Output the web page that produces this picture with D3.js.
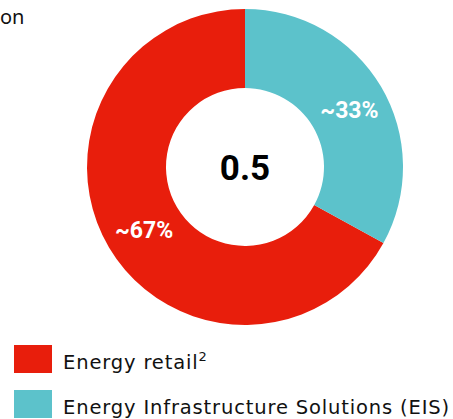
<!DOCTYPE html>
<html>
<head>
<meta charset="utf-8">
<script src="https://cdn.jsdelivr.net/npm/d3@7"></script>
<style>
  body { margin: 0; background: #fff; }
  svg { display: block; font-family: "Noto Sans", sans-serif; }
</style>
</head>
<body>
<div id="chart"></div>
<script>
// Segment data
const segments = ['Energy retail', 'Energy Infrastructure Solutions (EIS)'];
const shares = [67, 33];
const shareLabels = ['~67%', '~33%'];
const colors = ['#e81e0c', '#5cc2cb'];
const centerValue = '0.5';

const width = 453,
    height = 419,
    cx = 245,
    cy = 167,
    outerR = 158,
    innerR = 79;

const svg = d3.select('#chart')
    .append('svg')
    .attr('width', width)
    .attr('height', height);

// Title fragment at top left
svg.append('text')
    .attr('x', 0)
    .attr('y', 24)
    .attr('font-size', 20)
    .attr('fill', '#111')
    .text('on');

const g = svg.append('g')
    .attr('transform', 'translate(' + cx + ',' + cy + ')');

// EIS starts at 12 o'clock going clockwise, retail takes the rest
const pie = d3.pie()
    .sort(null)
    .startAngle(2 * Math.PI)
    .endAngle(0)
    .value(d => d);

const arcs = pie(shares);

const arc = d3.arc()
    .innerRadius(innerR)
    .outerRadius(outerR);

g.selectAll('path')
    .data(arcs)
    .join('path')
    .attr('d', arc)
    .attr('fill', (d, i) => colors[i]);

// Percentage labels, placed along the ring
g.selectAll('.pct')
    .data(arcs)
    .join('text')
    .attr('class', 'pct')
    .attr('transform', (d, i) => {
        const a = i === 0 ? -2.13 : 1.07;
        return 'translate(' + (Math.sin(a) * 119) + ',' + (-Math.cos(a) * 119) + ')';
    })
    .attr('text-anchor', 'middle')
    .attr('dy', '0.36em')
    .attr('fill', '#fff')
    .attr('font-family', 'Roboto, sans-serif')
    .attr('font-weight', 700)
    .attr('font-size', 23)
    .text((d, i) => shareLabels[i]);

// Center total
g.append('text')
    .attr('text-anchor', 'middle')
    .attr('dy', '0.36em')
    .attr('font-family', 'Roboto, sans-serif')
    .attr('font-weight', 700)
    .attr('font-size', 35)
    .attr('fill', '#000')
    .text(centerValue);

// Legend
const legend = svg.append('g')
    .attr('transform', 'translate(14,345)');

const items = legend.selectAll('g')
    .data(segments)
    .join('g')
    .attr('transform', (d, i) => 'translate(0,' + (i * 45) + ')');

items.append('rect')
    .attr('width', 38)
    .attr('height', 28)
    .attr('fill', (d, i) => colors[i]);

const labels = items.append('text')
    .attr('x', 49)
    .attr('y', 24)
    .attr('font-family', '"DejaVu Sans", sans-serif')
    .attr('font-size', 19.5)
    .attr('letter-spacing', 0.85)
    .attr('fill', '#111')
    .text(d => d);

labels.filter((d, i) => i === 0)
    .append('tspan')
    .attr('font-size', 13)
    .attr('dy', -8)
    .text('2');
</script>
</body>
</html>
